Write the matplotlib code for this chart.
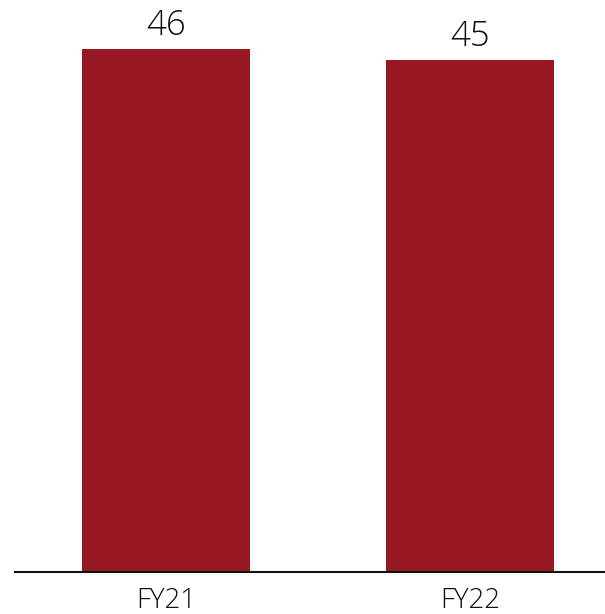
import matplotlib
matplotlib.use("Agg")
import matplotlib.pyplot as plt

categories = ["FY21", "FY22"]
values = [46, 45]
bar_color = "#951822"

plt.rcParams["font.family"] = ["Open Sans", "DejaVu Sans"]
plt.rcParams["font.weight"] = "light"

fig = plt.figure(figsize=(6.05, 6.14), dpi=100)
ax = fig.add_axes([15 / 605, 42 / 614, 590 / 605, 572 / 614])

x = list(range(len(categories)))
bars = ax.bar(x, values, width=0.553, color=bar_color)

ax.set_xlim(-0.497, 1.444)
ax.set_ylim(0, 50.3)

for rect, v in zip(bars, values):
    ax.annotate(f"{v}", (rect.get_x() + rect.get_width() / 2, v),
                xytext=(0, 10), textcoords="offset points",
                ha="center", va="baseline", fontsize=25,
                fontweight="light", color="#111111")

ax.set_xticks(x)
ax.set_xticklabels(categories, fontsize=20, fontweight="light", color="#111111")
ax.tick_params(axis="x", length=0, pad=11)
ax.set_yticks([])

for side in ["top", "right", "left"]:
    ax.spines[side].set_visible(False)
ax.spines["bottom"].set_linewidth(1.5)
ax.spines["bottom"].set_color("#111111")

fig.savefig("out.png", dpi=100)
